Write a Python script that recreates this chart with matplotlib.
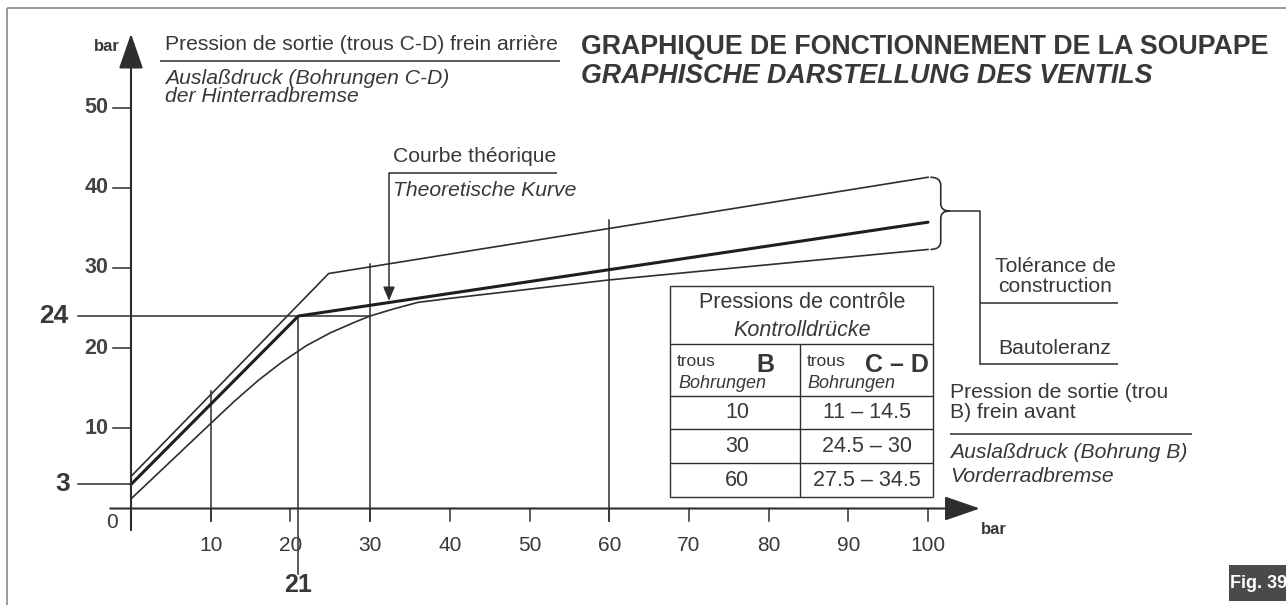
import numpy as np
import matplotlib.pyplot as plt
from matplotlib.path import Path
from matplotlib.patches import PathPatch, Rectangle

plt.rcParams['font.family'] = ['Liberation Sans', 'DejaVu Sans']

INK = '#2e2e2e'
TXT = '#383838'

# inlet pressure (hole B) -> outlet pressure (holes C-D), bar
theo_x = [0, 21, 100]
theo_y = [3, 24, 35.7]
upper_x = [0, 24.8, 100]
upper_y = [4.0, 29.3, 41.3]
lower_x = [0, 10, 13, 16, 19, 22, 25, 28, 30, 33, 36, 40, 60, 100]
lower_y = [1.2, 10.6, 13.4, 16.0, 18.3, 20.3, 21.9, 23.2, 24.0, 24.9, 25.7, 26.2, 28.5, 32.3]

x_ticks = [10, 20, 30, 40, 50, 60, 70, 80, 90, 100]
y_ticks = [10, 20, 30, 40, 50]
cut_in = 3      # start of outlet pressure
knee_x = 21     # limiting point
knee_y = 24

# control pressures
check_b = [10, 30, 60]
check_cd_lo = [11, 24.5, 27.5]
check_cd_hi = [14.5, 30, 34.5]

# pixel layout -> data coords
X0, SX = 131, 7.97
Y0, SY = 508.5, 8.02
W, H = 1286, 605


def px(x, y):
    return (x - X0) / SX, (Y0 - y) / SY


def text(x, y, s, size=15.2, ha='left', **kw):
    ax.text(*px(x, y), s, fontsize=size, ha=ha, va='center', color=TXT, **kw)


def seg(x1, y1, x2, y2, lw=1.1, color=INK):
    a, b = px(x1, y1), px(x2, y2)
    ax.plot([a[0], b[0]], [a[1], b[1]], color=color, lw=lw, solid_capstyle='butt')


fig = plt.figure(figsize=(W / 100, H / 100), dpi=100)
ax = fig.add_axes([0, 0, 1, 1])
ax.set_xlim(px(0, 0)[0], px(W, 0)[0])
ax.set_ylim(px(0, H)[1], px(0, 0)[1])
ax.axis('off')

# frame
seg(7.5, 8, 7.5, H, lw=1.2, color='#8a8a8a')
seg(7.5, 8, W, 8, lw=1.2, color='#8a8a8a')

# axes with arrows
arw = dict(arrowstyle='-|>,head_length=1.1,head_width=0.38', lw=1.5, color=INK,
           mutation_scale=20, shrinkA=0, shrinkB=0)
ax.annotate('', xy=(106.5, 0), xytext=(-2.6, 0), arrowprops=arw)
ax.annotate('', xy=(0, 59.2), xytext=(0, -2.7), arrowprops=arw)

for t in x_ticks:
    ax.plot([t, t], [0, -1.5], color=INK, lw=1.1)
    ax.text(t, -4.6, str(t), fontsize=15, ha='center', va='center', color=TXT)
for t in y_ticks:
    ax.plot([-2.3, 0], [t, t], color=INK, lw=1.1)
    ax.text(-2.8, t, str(t), fontsize=15.5, ha='right', va='center', color='#444444',
            fontweight='bold')
ax.text(-1.6, -1.8, '0', fontsize=15, ha='right', va='center', color=TXT)
ax.text(-1.4, 57.6, 'bar', fontsize=12, ha='right', va='center', color=TXT,
        fontweight='bold')
ax.text(108.3, -2.6, 'bar', fontsize=12, ha='center', va='center', color=TXT,
        fontweight='bold')

# start and knee references
ax.plot([-6.6, 0], [cut_in, cut_in], color=INK, lw=1.1)
ax.text(-7.6, cut_in, str(cut_in), fontsize=19, ha='right', va='center',
        color=TXT, fontweight='bold')
ax.plot([-6.6, 30], [knee_y, knee_y], color=INK, lw=1.1)
ax.text(-7.8, knee_y, str(knee_y), fontsize=19, ha='right', va='center',
        color=TXT, fontweight='bold')
ax.plot([knee_x, knee_x], [-8.2, knee_y], color=INK, lw=1.1)
ax.text(knee_x, -9.6, str(knee_x), fontsize=18, ha='center', va='center',
        color=TXT, fontweight='bold')

# guides at the control pressures, up to the upper tolerance line
for b in check_b:
    top = np.interp(b, upper_x, upper_y) + (1.0 if b > 40 else 0.4)
    ax.plot([b, b], [-1.5, top], color=INK, lw=1.1)

# curves
ax.plot(upper_x, upper_y, color=INK, lw=1.2)
ax.plot(lower_x, lower_y, color=INK, lw=1.2)
ax.plot(theo_x, theo_y, color='#1e1e1e', lw=2.2, solid_capstyle='round')

# theoretical curve callout
ax_x = px(389, 0)[0]
ax_tip = np.interp(ax_x, theo_x, theo_y)
ul = px(0, 173)[1]
ax.annotate('', xy=(ax_x, ax_tip + 0.2), xytext=(ax_x, ul),
            arrowprops=dict(arrowstyle='-|>,head_length=0.6,head_width=0.25',
                            lw=1.1, color=INK, mutation_scale=14,
                            shrinkA=0, shrinkB=0))
seg(389, 173, 557, 173)
text(393, 157, 'Courbe théorique')
text(393, 190, 'Theoretische Kurve', style='italic')

# tolerance brace
xb0, xb1, xb2 = 100.3, 101.6, 102.7
yt, yb = upper_y[-1], lower_y[-1]
ym = (upper_y[-1] + lower_y[-1]) / 2 + 0.3
verts = [(xb0, yt), (xb1, yt), (xb1, yt - 1.0),
         (xb1, ym + 0.9), (xb1, ym), (xb2, ym),
         (xb1, ym), (xb1, ym - 0.9),
         (xb1, yb + 1.0), (xb1, yb), (xb0, yb)]
codes = [Path.MOVETO, Path.CURVE3, Path.CURVE3,
         Path.LINETO, Path.CURVE3, Path.CURVE3,
         Path.CURVE3, Path.CURVE3,
         Path.LINETO, Path.CURVE3, Path.CURVE3]
ax.add_patch(PathPatch(Path(verts, codes), fill=False, ec=INK, lw=1.2))
xr = px(980, 0)[0]
ax.plot([xb2, xr, xr], [ym, ym, px(0, 364)[1]], color=INK, lw=1.1)
seg(980, 303, 1118, 303)
seg(980, 364, 1118, 364)
text(1055, 267, 'Tolérance de', ha='center')
text(1055, 287, 'construction', ha='center')
text(1055, 349, 'Bautoleranz', ha='center')

# axis captions
text(165, 45, 'Pression de sortie (trous C-D) frein arrière')
seg(160, 61, 560, 61)
text(165, 78, 'Auslaßdruck (Bohrungen C-D)', style='italic')
text(165, 96, 'der Hinterradbremse', style='italic')

text(950, 393, 'Pression de sortie (trou')
text(950, 412, 'B) frein avant')
seg(950, 434, 1192, 434)
text(950, 453, 'Auslaßdruck (Bohrung B)', style='italic')
text(950, 477, 'Vorderradbremse', style='italic')

# title
text(581, 47, 'GRAPHIQUE DE FONCTIONNEMENT DE LA SOUPAPE', size=19.3,
     fontweight='bold')
text(581, 76, 'GRAPHISCHE DARSTELLUNG DES VENTILS', size=19.3,
     fontweight='bold', style='italic')

# control pressure table
tl, tr, tm = 670, 933, 800
rows_y = [286, 344, 396, 429, 463, 497]
for y in rows_y:
    seg(tl, y, tr, y, lw=1.0)
seg(tl, 286, tl, 497, lw=1.0)
seg(tr, 286, tr, 497, lw=1.0)
seg(tm, 344, tm, 497, lw=1.0)
text(802, 303, 'Pressions de contrôle', size=15.5, ha='center')
text(802, 330, 'Kontrolldrücke', size=15.5, ha='center', style='italic')
text(677, 362, 'trous', size=12.5)
text(678, 384, 'Bohrungen', size=13, style='italic')
text(765, 365, 'B', size=18, ha='center', fontweight='bold')
text(807, 362, 'trous', size=12.5)
text(807, 384, 'Bohrungen', size=13, style='italic')
text(897, 365, 'C – D', size=18, ha='center', fontweight='bold')
for i, b in enumerate(check_b):
    yc = (rows_y[i + 2] + rows_y[i + 3]) / 2
    text(737, yc, f'{b}', size=15.5, ha='center')
    text(867, yc, f'{check_cd_lo[i]:g} – {check_cd_hi[i]:g}', size=15.5, ha='center')

# figure tag
x1, y1 = px(1229, 601)
x2, y2 = px(W, 565)
ax.add_patch(Rectangle((x1, y1), x2 - x1, y2 - y1, fc='#4a4a4a', ec='none'))
ax.text((x1 + x2) / 2 + 0.1, (y1 + y2) / 2, 'Fig. 39', fontsize=13, ha='center',
        va='center', color='white', fontweight='bold',
        family=['Liberation Sans Narrow', 'Liberation Sans'])

fig.savefig('out.png', dpi=100, facecolor='white')
